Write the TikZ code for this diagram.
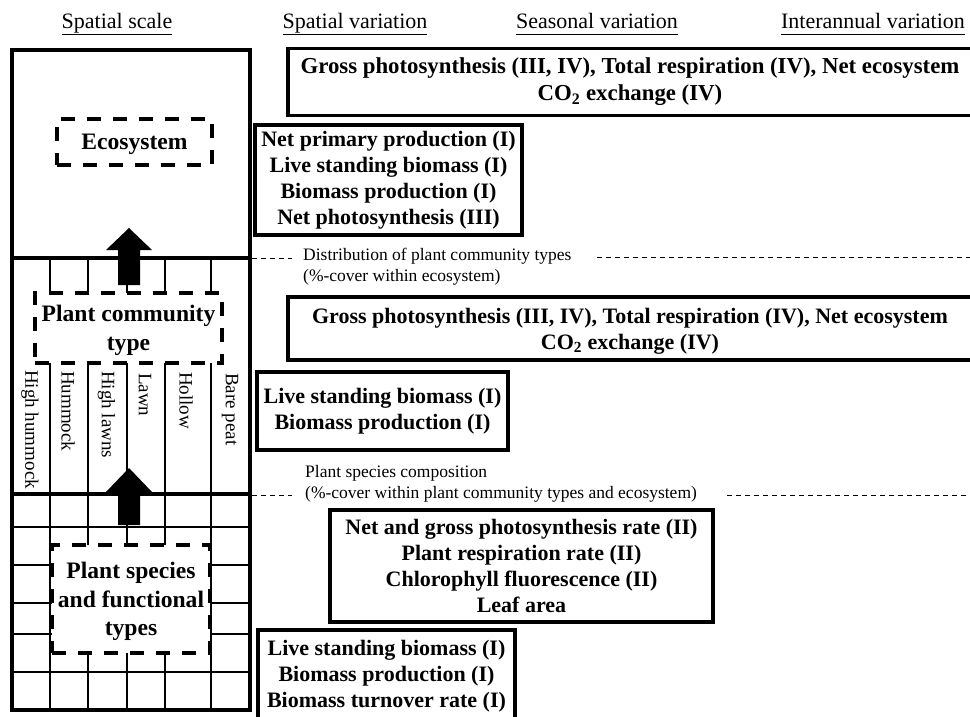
\documentclass[tikz,border=0pt]{standalone}
\usepackage{fontspec}
\setmainfont{Liberation Serif}
\begin{document}
\begin{tikzpicture}[x=1pt,y=-1pt,
  box/.style={draw, line width=3.8pt, align=center, inner sep=0pt, font=\fontsize{22}{26}\selectfont\bfseries},
  dbox/.style={draw, fill=white, line width=3.2pt, dash pattern=on 14pt off 12pt, align=center, inner sep=0pt, text depth=0pt, font=\fontsize{23.6}{28.5}\selectfont\bfseries},
  gridline/.style={line width=1.5pt},
  frame/.style={line width=3.5pt},
  head/.style={font=\fontsize{22}{24}\selectfont, inner sep=0pt, anchor=base},
  note/.style={font=\fontsize{17.5}{21}\selectfont, align=left, inner sep=0pt},
  typ/.style={font=\fontsize{19}{20}\selectfont, rotate=-90, anchor=west, inner sep=0pt},
  bigarrow/.style={fill=black, draw=none},
  sepline/.style={line width=0.8pt, dash pattern=on 5pt off 4pt}
]
\useasboundingbox (0,0) rectangle (970,716);

% headers
\node[head] (h1) at (117,28) {\underline{Spatial scale\vphantom{p}}};
\node[head] (h2) at (355,28) {\underline{Spatial variation\vphantom{p}}};
\node[head] (h3) at (597,28) {\underline{Seasonal variation\vphantom{p}}};
\node[head] (h4) at (873,28) {\underline{Interannual variation\vphantom{p}}};

% grid of the spatial scale column
\foreach \x in {50,88,127,165,211} \draw[gridline] (\x,258) -- (\x,710);
\foreach \y in {527,565,603,634,672} \draw[gridline] (12,\y) -- (250,\y);
\draw[frame] (12,258) -- (250,258);
\draw[frame] (12,494) -- (250,494);
\draw[frame] (12,50) rectangle (250,710);

% rotated community types
\node[typ] (t1) at (30,370) {High hummock};
\node[typ] (t2) at (68,371) {Hummock};
\node[typ] (t3) at (106.5,371) {High lawns};
\node[typ] (t4) at (145,373) {Lawn};
\node[typ] (t5) at (186,372) {Hollow};
\node[typ] (t6) at (230,373) {Bare peat};

% dashed level boxes
\node[dbox, minimum width=155pt, minimum height=46pt] (eco) at (134.5,142) {Ecosystem};
\node[dbox, minimum width=187pt, minimum height=70pt] (pct) at (128.5,328) {Plant community\\type};
\node[dbox, minimum width=158pt, minimum height=108pt] (psf) at (131,599) {Plant species\\and functional\\types};

% arrows
\draw[bigarrow] (129,228) -- (152,250) -- (140,250) -- (140,285) -- (118,285) -- (118,250) -- (106,250) -- cycle;
\draw[bigarrow] (129,468) -- (152,492) -- (140,492) -- (140,525) -- (118,525) -- (118,492) -- (106,492) -- cycle;

% separators
\node[note, anchor=west] (dist) at (303,266.5) {Distribution of plant community types\\(\%-cover within ecosystem)};
\node[note, anchor=west] (comp) at (305,483.5) {Plant species composition\\(\%-cover within plant community types and ecosystem)};
\coordinate (s1a) at (252,258);
\coordinate (s1b) at (292,258);
\coordinate (s1c) at (597,257);
\coordinate (s1d) at (970,257);
\coordinate (s2a) at (252,495);
\coordinate (s2b) at (292,495);
\coordinate (s2c) at (727,495);
\coordinate (s2d) at (970,495);
\draw[sepline] (s1a) -- (s1b);
\draw[sepline] (s1c) -- (s1d);
\draw[sepline] (s2a) -- (s2b);
\draw[sepline] (s2c) -- (s2d);

% variable boxes
\node[box, minimum width=684pt, minimum height=67pt, font=\fontsize{22.8}{27}\selectfont\bfseries] (ba) at (630,82) {Gross photosynthesis (III, IV), Total respiration (IV), Net ecosystem\\CO\textsubscript{2} exchange (IV)};
\node[box, minimum width=267pt, minimum height=110pt] (bb) at (388.5,180) {Net primary production (I)\\Live standing biomass (I)\\Biomass production (I)\\Net photosynthesis (III)};
\node[box, minimum width=684pt, minimum height=63pt, text depth=0pt] (bc) at (630,328.5) {Gross photosynthesis (III, IV), Total respiration (IV), Net ecosystem\\CO\textsubscript{2} exchange (IV)};
\node[box, minimum width=251pt, minimum height=78pt] (bd) at (382.5,411) {Live standing biomass (I)\\Biomass production (I)};
\node[box, minimum width=383pt, minimum height=112pt] (be) at (521.5,566) {Net and gross photosynthesis rate (II)\\Plant respiration rate (II)\\Chlorophyll fluorescence (II)\\Leaf area};
\node[box, minimum width=257pt, minimum height=92pt] (bf) at (386.5,676) {Live standing biomass (I)\\Biomass production (I)\\Biomass turnover rate (I)};
\end{tikzpicture}
\end{document}
